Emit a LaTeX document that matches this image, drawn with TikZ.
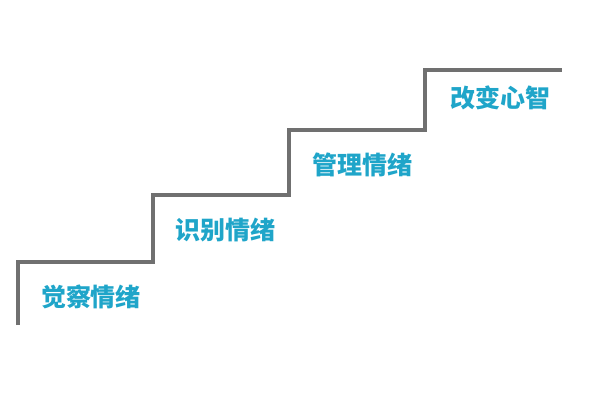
\documentclass[tikz,border=0pt]{standalone}
\usepackage{fontspec}
\newfontfamily\cjk{Noto Sans CJK SC}
\usetikzlibrary{positioning}
\definecolor{stairgray}{HTML}{707070}
\definecolor{labelblue}{HTML}{1FA5C9}
\begin{document}
\begin{tikzpicture}[x=1pt,y=-1pt,
		stepline/.style={draw=stairgray,line width=3.2pt},
		steplabel/.style={text=labelblue,font=\cjk\bfseries\fontsize{25}{25}\selectfont}]
		\useasboundingbox (0,0) rectangle (600,400);
		% stair corners
		\coordinate (s0) at (18,325);
		\coordinate (s1) at (18,262);
		\coordinate (s2) at (153,262);
		\coordinate (s3) at (153,195);
		\coordinate (s4) at (289,195);
		\coordinate (s5) at (289,130);
		\coordinate (s6) at (425,130);
		\coordinate (s7) at (425,70);
		\coordinate (s8) at (562,70);
		\draw[stepline] (s0) -- (s1) -- (s2) -- (s3) -- (s4) -- (s5) -- (s6) -- (s7) -- (s8);
		\node[steplabel] (aware) at (91,297) {觉察情绪};
		\node[steplabel] (identify) at (225,230) {识别情绪};
		\node[steplabel] (manage) at (362,165) {管理情绪};
		\node[steplabel] (change) at (500,98) {改变心智};
\end{tikzpicture}
\end{document}
